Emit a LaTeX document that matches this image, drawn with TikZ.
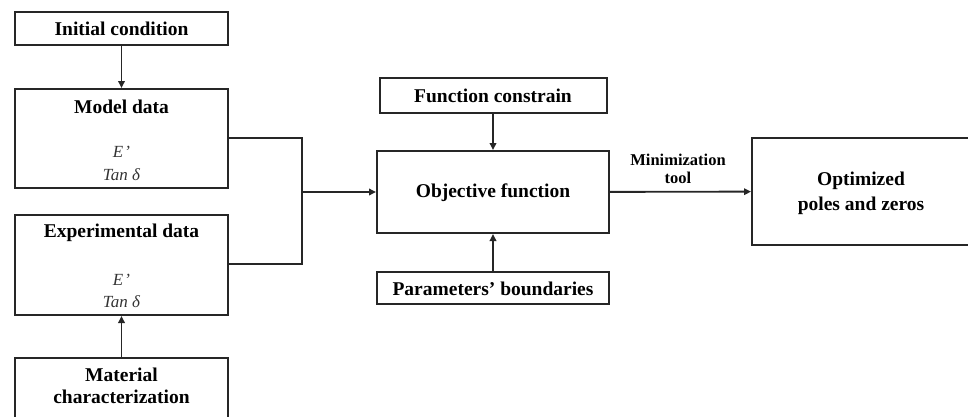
\documentclass[tikz,border=0pt]{standalone}
\usepackage{fontspec}
\setmainfont{Liberation Serif}
\usetikzlibrary{arrows.meta,positioning}

\begin{document}
\begin{tikzpicture}[x=1pt,y=-1pt,
  box/.style={draw=black!85, line width=2pt, inner sep=0pt},
  ttl/.style={font=\fontsize{19.5}{22}\selectfont\bfseries, align=center, inner sep=0pt},
  var/.style={font=\fontsize{17}{19}\selectfont\itshape, inner sep=0pt, text=black!80},
  lbl/.style={font=\fontsize{16.5}{18}\selectfont\bfseries, align=center, inner sep=0pt},
  wire/.style={line width=1.9pt, draw=black!85},
  arr/.style={wire, -{Triangle[length=7pt,width=6.5pt]}}]
  \useasboundingbox (0,0) rectangle (968,416);
  \clip (0,0) rectangle (968,416);

  % left column
  \node[box, minimum width=213pt, minimum height=33pt] (ic) at (121.5,28.5) {};
  \node[ttl] (ic-t) at (121.5,29) {Initial condition};

  \node[box, minimum width=213pt, minimum height=99pt] (md) at (121.5,138.5) {};
  \node[ttl] (md-t) at (121.5,107) {Model data};
  \node[var] (md-e) at (121.5,152) {E\kern1pt’};
  \node[var] (md-d) at (121.5,175) {Tan δ};

  \node[box, minimum width=213pt, minimum height=100pt] (ed) at (121.5,265) {};
  \node[ttl] (ed-t) at (121.5,233) {Experimental data};
  \node[var] (ed-e) at (121.5,280) {E\kern1pt’};
  \node[var] (ed-d) at (121.5,302) {Tan δ};

  \node[box, minimum width=213pt, minimum height=80pt] (mc) at (121.5,398) {};
  \node[ttl] (mc-t) at (121.5,386) {Material\\[0pt]characterization};

  % centre column
  \node[box, minimum width=227pt, minimum height=35pt] (fc) at (493,95.5) {};
  \node[ttl] (fc-t) at (493,96) {Function constrain};

  \node[box, minimum width=232pt, minimum height=82pt] (of) at (493,192) {};
  \node[ttl] (of-t) at (493,193) {Objective function};

  \node[box, minimum width=232pt, minimum height=32pt] (pb) at (493,288) {};
  \node[ttl] (pb-t) at (493,289) {Parameters’ boundaries};

  % result
  \node[box, minimum width=220pt, minimum height=107pt] (op) at (862,191.5) {};
  \node[ttl] (op-t) at (861,193) {Optimized\\[3pt]poles and zeros};

  \node[lbl] (mt) at (678,169) {Minimization\\[0pt]tool};

  % connectors
  \coordinate (j) at (302,192);
  \draw[arr] (ic) -- (md);
  \draw[arr] (mc) -- (ed);
  \draw[wire] (md.east |- 0,138) -| (j) |- (ed.east |- 0,264);
  \draw[arr] (j) -- (of);
  \draw[arr] (fc) -- (of);
  \draw[arr] (pb) -- (of);
  \draw[arr] (of) -- (op);
\end{tikzpicture}
\end{document}
